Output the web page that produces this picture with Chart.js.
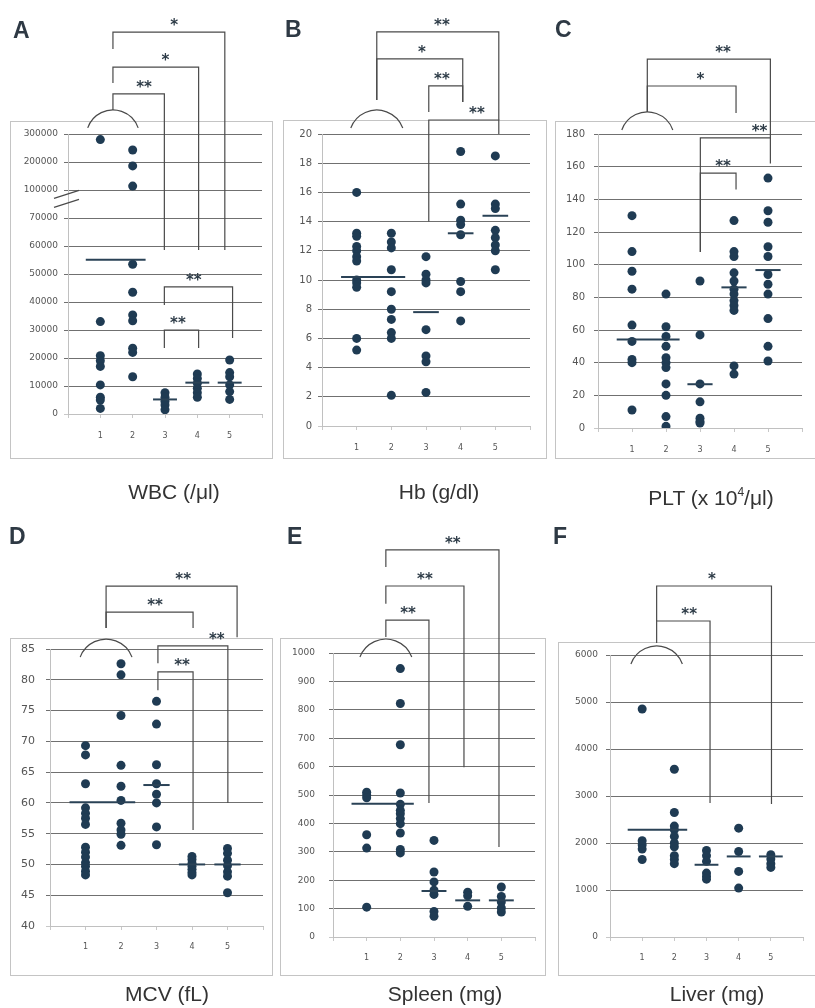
<!DOCTYPE html>
<html>
<head>
<meta charset="utf-8">
<script src="https://cdn.jsdelivr.net/npm/chart.js@4.4.0/dist/chart.umd.min.js"></script>
<style>
  body { margin: 0; background: #fff; width: 815px; height: 1008px; position: relative; overflow: hidden; font-family: "Liberation Sans", Arial, sans-serif; }
  .box { position: absolute; border: 1px solid #c4c4c4; box-sizing: border-box; }
  canvas { position: absolute; }
  .letter { position: absolute; font-weight: bold; font-size: 23px; line-height: 25px; color: #2e3944; }
  .cap { position: absolute; width: 220px; font-size: 21px; line-height: 24px; color: #333; text-align: center; white-space: nowrap; }
  .cap sup { font-size: 12px; vertical-align: 9px; }
</style>
</head>
<body>

<div class="box" style="left:10px;top:121px;width:263px;height:338px"></div>
<div class="box" style="left:283px;top:120px;width:264px;height:339px"></div>
<div class="box" style="left:555px;top:121px;width:262px;height:338px"></div>
<div class="box" style="left:10px;top:638px;width:263px;height:338px"></div>
<div class="box" style="left:280px;top:638px;width:266px;height:338px"></div>
<div class="box" style="left:558px;top:642px;width:259px;height:334px"></div>

<canvas id="cA" width="275" height="480" style="left:0;top:0"></canvas>
<canvas id="cB" width="275" height="480" style="left:275px;top:0"></canvas>
<canvas id="cC" width="265" height="480" style="left:550px;top:0"></canvas>
<canvas id="cD" width="275" height="528" style="left:0;top:480px"></canvas>
<canvas id="cE" width="275" height="528" style="left:275px;top:480px"></canvas>
<canvas id="cF" width="265" height="528" style="left:550px;top:480px"></canvas>

<div class="letter" style="left:13px;top:18px">A</div>
<div class="letter" style="left:285px;top:17px">B</div>
<div class="letter" style="left:555px;top:17px">C</div>
<div class="letter" style="left:9px;top:524px">D</div>
<div class="letter" style="left:287px;top:524px">E</div>
<div class="letter" style="left:553px;top:524px">F</div>

<div class="cap" style="left:64px;top:480px">WBC (/μl)</div>
<div class="cap" style="left:329px;top:480px">Hb (g/dl)</div>
<div class="cap" style="left:601px;top:480px">PLT (x 10<sup>4</sup>/μl)</div>
<div class="cap" style="left:57px;top:982px">MCV (fL)</div>
<div class="cap" style="left:335px;top:982px">Spleen (mg)</div>
<div class="cap" style="left:607px;top:982px">Liver (mg)</div>

<script>
const categories = ['1', '2', '3', '4', '5'];

// A - WBC, broken axis
const wbcTicks = ['0', '10000', '20000', '30000', '40000', '50000', '60000', '70000', '100000', '200000', '300000'];
const wbcValues = [
  [280000, 33000, 20800, 19000, 17000, 10400, 6000, 5000, 2000],
  [243000, 186000, 114000, 53500, 43500, 35400, 33300, 23500, 22000, 13300],
  [7600, 6000, 4500, 3200, 1500],
  [14300, 12700, 11000, 9200, 7600, 6000],
  [19300, 14800, 13300, 10400, 8000, 5200]
];
const wbcMeans = [55100, 5200, 11200, 11200];

// B - Hb
const hbTicks = [0, 2, 4, 6, 8, 10, 12, 14, 16, 18, 20];
const hbValues = [
  [16.0, 13.2, 13.0, 12.3, 12.0, 11.6, 11.3, 10.0, 9.8, 9.5, 6.0, 5.2],
  [13.2, 12.6, 12.2, 10.7, 9.2, 8.0, 7.3, 6.4, 6.0, 2.1],
  [11.6, 10.4, 10.0, 9.8, 6.6, 4.8, 4.4, 2.3],
  [18.8, 15.2, 14.1, 13.8, 13.1, 9.9, 9.2, 7.2],
  [18.5, 15.2, 14.9, 13.4, 12.9, 12.4, 12.0, 10.7]
];
const hbMeans = [10.2, 7.8, 13.2, 14.4];

// C - PLT
const pltTicks = [0, 20, 40, 60, 80, 100, 120, 140, 160, 180];
const pltValues = [
  [130, 108, 96, 85, 63, 53, 42, 40, 11],
  [82, 62, 56, 50, 43, 40, 37, 27, 20, 7, 1],
  [90, 57, 27, 16, 6, 4, 3],
  [127, 108, 105, 95, 90, 85, 82, 78, 75, 72, 38, 33],
  [153, 133, 126, 111, 105, 94, 88, 82, 67, 50, 41]
];
const pltMeans = [54.2, 26.8, 86.1, 96.7];

// D - MCV
const mcvTicks = [40, 45, 50, 55, 60, 65, 70, 75, 80, 85];
const mcvValues = [
  [69.3, 67.8, 63.1, 59.2, 58.3, 57.5, 56.5, 52.8, 52.0, 51.2, 50.3, 49.7, 48.9, 48.3],
  [82.6, 80.8, 74.2, 66.1, 62.7, 60.4, 56.7, 55.6, 54.9, 53.1],
  [76.5, 72.8, 66.2, 63.1, 61.4, 60.0, 56.1, 53.2],
  [51.3, 50.8, 50.2, 49.7, 49.2, 48.7, 48.3],
  [52.6, 51.8, 50.7, 49.8, 48.8, 48.1, 45.4]
];
const mcvMeans = [60.1, 62.9, 50.0, 50.0];

// E - Spleen
const spleenTicks = [0, 100, 200, 300, 400, 500, 600, 700, 800, 900, 1000];
const spleenValues = [
  [510, 500, 490, 360, 313, 105],
  [945, 822, 677, 507, 467, 446, 434, 417, 399, 366, 308, 296],
  [340, 229, 194, 165, 150, 90, 73],
  [158, 145, 108],
  [176, 143, 123, 102, 88]
];
const spleenMeans = [469, 162, 129, 129];

// F - Liver
const liverTicks = [0, 1000, 2000, 3000, 4000, 5000, 6000];
const liverValues = [
  [4850, 2050, 1960, 1870, 1650],
  [3570, 2650, 2360, 2280, 2140, 2000, 1920, 1730, 1650, 1560],
  [1840, 1730, 1610, 1360, 1290, 1230],
  [2316, 1820, 1395, 1040],
  [1750, 1657, 1560, 1480]
];
const liverMeans = [2280, 1537, 1714, 1714];

const dotColor = '#1f3b53';
const meanColor = '#2a4256';
const inkColor = '#4a4a4a';

// WBC axis: linear up to 70000, then 100000 / 200000 / 300000 one gridline apart
function wbcAxis(v) {
  if (v <= 70000) return v / 10000;
  if (v <= 100000) return 7 + (v - 70000) / 30000;
  return 8 + (v - 100000) / 100000;
}

// bracket heights are in axis units (for A: broken-axis positions)
const panels = [
  {
    id: 'cA', canvas: [0, 0, 275, 480], area: [68, 134, 267, 414],
    values: wbcValues, means: wbcMeans, toAxis: wbcAxis,
    min: 0, max: 10, step: 1, label: v => wbcTicks[v],
    fontSize: 9, labelGap: 6, xGap: 13, axisBreak: 7.7,
    arc: { x: 1.39, hw: 0.78, top: 10.86 },
    brackets: [
      { x1: 1.39, x2: 4.85, top: 13.64, y1: 13.04, y2: 5.86, star: '*', sx: 3.28 },
      { x1: 1.39, x2: 4.04, top: 12.39, y1: 11.82, y2: 5.86, star: '*', sx: 3.01 },
      { x1: 1.39, x2: 2.98, top: 11.43, y1: 10.86, y2: 5.86, star: '**', sx: 2.35 },
      { x1: 2.98, x2: 5.09, top: 4.54, y1: 3.89, y2: 2.71, star: '**', sx: 3.89 },
      { x1: 2.98, x2: 4.04, top: 3.0, y1: 2.36, y2: 2.36, star: '**', sx: 3.40 }
    ]
  },
  {
    id: 'cB', canvas: [275, 0, 275, 480], area: [322, 134, 530, 426],
    values: hbValues, means: hbMeans, ticks: hbTicks,
    fontSize: 10, labelGap: 6, xGap: 13,
    arc: { x: 1.58, hw: 0.75, top: 21.64 },
    brackets: [
      { x1: 1.58, x2: 5.1, top: 26.99, y1: 22.33, y2: 20.96, star: '**', sx: 3.46 },
      { x1: 1.58, x2: 4.06, top: 25.14, y1: 22.33, y2: 22.19, star: '*', sx: 2.88 },
      { x1: 3.08, x2: 4.06, top: 23.29, y1: 21.5, y2: 22.19, star: '**', sx: 3.46 },
      { x1: 3.08, x2: 5.1, top: 20.96, y1: 14.0, y2: 20.0, star: '**', sx: 4.47 }
    ]
  },
  {
    id: 'cC', canvas: [550, 0, 265, 480], area: [598, 134, 805, 428],
    values: pltValues, means: pltMeans, ticks: pltTicks,
    fontSize: 10, labelGap: 9, xGap: 13,
    arc: { x: 1.45, hw: 0.75, top: 193.5 },
    brackets: [
      { x1: 1.45, x2: 5.07, top: 225.9, y1: 193.5, y2: 177.6, star: '**', sx: 3.68 },
      { x1: 1.45, x2: 4.06, top: 209.4, y1: 193.5, y2: 192.9, star: '*', sx: 3.01 },
      { x1: 3.01, x2: 5.07, top: 177.6, y1: 107.7, y2: 162, star: '**', sx: 4.75 },
      { x1: 3.01, x2: 4.06, top: 156.1, y1: 107.7, y2: 146, star: '**', sx: 3.68 }
    ]
  },
  {
    id: 'cD', canvas: [0, 480, 275, 528], area: [50, 649, 263, 926],
    values: mcvValues, means: mcvMeans, ticks: mcvTicks,
    fontSize: 11, labelGap: 11, xGap: 12,
    arc: { x: 1.58, hw: 0.73, top: 86.6 },
    brackets: [
      { x1: 1.58, x2: 5.27, top: 95.2, y1: 88.4, y2: 86.9, star: '**', sx: 3.75 },
      { x1: 1.58, x2: 4.03, top: 91.0, y1: 88.4, y2: 88.4, star: '**', sx: 2.96 },
      { x1: 3.04, x2: 5.01, top: 85.5, y1: 82.7, y2: 60.0, star: '**', sx: 4.7 },
      { x1: 3.04, x2: 4.03, top: 81.3, y1: 78.3, y2: 55.6, star: '**', sx: 3.72 }
    ]
  },
  {
    id: 'cE', canvas: [275, 480, 275, 528], area: [333, 653, 535, 937],
    values: spleenValues, means: spleenMeans, ticks: spleenTicks,
    fontSize: 9, labelGap: 14, xGap: 12,
    arc: { x: 1.57, hw: 0.77, top: 1049 },
    brackets: [
      { x1: 1.57, x2: 4.93, top: 1363, y1: 1303, y2: 317, star: '**', sx: 3.56 },
      { x1: 1.57, x2: 3.89, top: 1236, y1: 1173, y2: 598, star: '**', sx: 2.73 },
      { x1: 1.57, x2: 2.85, top: 1116, y1: 1056, y2: 472, star: '**', sx: 2.23 }
    ]
  },
  {
    id: 'cF', canvas: [550, 480, 265, 528], area: [610, 655, 805, 937],
    values: liverValues, means: liverMeans, ticks: liverTicks,
    fontSize: 9, labelGap: 8, xGap: 12,
    arc: { x: 1.45, hw: 0.8, top: 6191 },
    brackets: [
      { x1: 1.45, x2: 5.02, top: 7468, y1: 6723, y2: 2830, star: '*', sx: 3.17 },
      { x1: 1.45, x2: 3.11, top: 6723, y1: 6255, y2: 2850, star: '**', sx: 2.46 }
    ]
  }
];

const X_AXIS_H = 30;

// brackets, stars, the arc over groups 1+2 and the axis break
function drawMarks(chart, p) {
  const ctx = chart.ctx;
  const xs = chart.scales.x, ys = chart.scales.y;
  const X = v => xs.getPixelForValue(v);
  const Y = v => ys.getPixelForValue(v);
  ctx.save();
  ctx.strokeStyle = inkColor;
  ctx.lineWidth = 1.2;
  ctx.fillStyle = '#2d3b47';
  ctx.font = 'bold 15px "DejaVu Sans"';
  ctx.textAlign = 'center';
  ctx.textBaseline = 'alphabetic';
  p.brackets.forEach(b => {
    ctx.beginPath();
    ctx.moveTo(X(b.x1), Y(b.y1));
    ctx.lineTo(X(b.x1), Y(b.top));
    ctx.lineTo(X(b.x2), Y(b.top));
    ctx.lineTo(X(b.x2), Y(b.y2));
    ctx.stroke();
    ctx.fillText(b.star, X(b.sx), Y(b.top) - 2);
  });

  const a = p.arc;
  const cx = X(a.x), hw = X(a.x + a.hw) - cx, ty = Y(a.top), s = 18;
  const r = (s * s + hw * hw) / (2 * s);
  const th = Math.asin(hw / r);
  ctx.beginPath();
  ctx.arc(cx, ty + r, r, -Math.PI / 2 - th, -Math.PI / 2 + th);
  ctx.stroke();

  if (p.axisBreak != null) {
    const bx = xs.left, by = Y(p.axisBreak);
    [-4, 5].forEach(o => {
      ctx.beginPath();
      ctx.moveTo(bx - 14, by + o + 4);
      ctx.lineTo(bx + 11, by + o - 4);
      ctx.stroke();
    });
  }
  ctx.restore();
}

function makePanel(p) {
  const tf = p.toAxis || (v => v);
  const dots = [];
  p.values.forEach((vals, i) => vals.forEach(v => dots.push({ x: i + 1, y: tf(v) })));

  const spans = [[0.55, 2.4], [2.63, 3.37], [3.63, 4.37], [4.63, 5.37]];
  const meanSets = p.means.map((m, i) => ({
    type: 'line',
    data: [{ x: spans[i][0], y: tf(m) }, { x: spans[i][1], y: tf(m) }],
    borderColor: meanColor,
    borderWidth: 2,
    pointRadius: 0,
    showLine: true,
    order: 0
  }));

  const [cx, cy, cw, ch] = p.canvas;
  const [al, at, ar, ab] = p.area;
  const yAxisW = al - cx - 2; // wide enough that tick labels are not clipped
  const min = p.ticks ? p.ticks[0] : p.min;
  const max = p.ticks ? p.ticks[p.ticks.length - 1] : p.max;
  const step = p.ticks ? p.ticks[1] - p.ticks[0] : p.step;

  new Chart(document.getElementById(p.id), {
    type: 'scatter',
    data: {
      datasets: [{
        data: dots,
        backgroundColor: dotColor,
        borderWidth: 0,
        pointRadius: 4.5,
        order: 1
      }, ...meanSets]
    },
    options: {
      responsive: false,
      animation: false,
      layout: {
        padding: {
          left: 2,
          top: at - cy,
          right: cx + cw - ar,
          bottom: cy + ch - ab - X_AXIS_H
        }
      },
      plugins: { legend: { display: false }, tooltip: { enabled: false } },
      scales: {
        x: {
          type: 'linear', min: 0, max: 6,
          afterFit: s => { s.height = X_AXIS_H; },
          ticks: {
            stepSize: 1,
            padding: p.xGap,
            color: '#555',
            font: { family: 'DejaVu Sans', size: 8 },
            callback: v => (v >= 1 && v <= 5 ? categories[v - 1] : '')
          },
          grid: { drawOnChartArea: false, tickLength: 4, color: '#c8c8c8' },
          border: { color: '#c0c0c0' }
        },
        y: {
          min: min, max: max,
          afterFit: s => { s.width = yAxisW; },
          ticks: {
            stepSize: step,
            padding: p.labelGap,
            color: '#555',
            font: { family: 'DejaVu Sans', size: p.fontSize },
            callback: p.label || (v => String(v))
          },
          grid: {
            tickLength: 4,
            lineWidth: 1,
            color: c => (c.index === 0 ? '#c8c8c8' : '#707070')
          },
          border: { color: '#c0c0c0' }
        }
      }
    },
    plugins: [{ id: 'marks', afterDraw: chart => drawMarks(chart, p) }]
  });
}

panels.forEach(makePanel);
</script>
</body>
</html>
